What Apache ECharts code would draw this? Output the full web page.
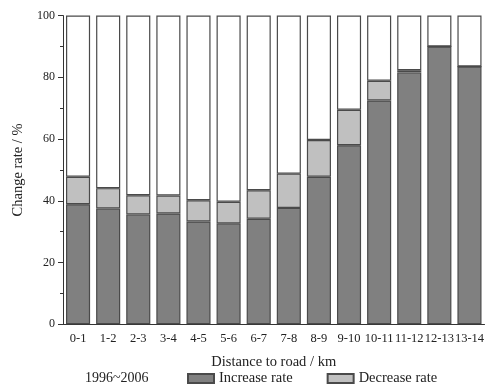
<!DOCTYPE html>
<html lang="en">

<head>
  <meta charset="UTF-8">
  <title>Change rate</title>
  <script src="https://cdn.jsdelivr.net/npm/echarts@6/dist/echarts.min.js"></script>
  <style>
    * {
      padding: 0;
      margin: 0;
    }

    #box {
      width: 487px;
      height: 390px;
    }
  </style>
</head>

<body>
  <div id="box"></div>
  <script>
    var categories = ['0-1', '1-2', '2-3', '3-4', '4-5', '5-6', '6-7', '7-8', '8-9', '9-10', '10-11', '11-12', '12-13', '13-14']
    var increaseRate = [38.9, 37.5, 35.6, 35.9, 33.3, 32.7, 34.2, 37.7, 47.8, 58.0, 72.5, 81.6, 90.0, 83.5]
    var decreaseRate = [8.9, 6.6, 6.2, 5.8, 6.9, 7.0, 9.2, 11.1, 11.9, 11.5, 6.4, 0.7, 0, 0]
    // rest of each bar up to 100%
    var unchanged = []
    for (let i = 0; i < categories.length; i++) {
      unchanged.push(+(100 - increaseRate[i] - decreaseRate[i]).toFixed(1))
    }

    var font = 'Liberation Serif'
    var mCharts = echarts.init(document.getElementById('box'))
    var barStyle = { borderColor: '#4a4a4a', borderWidth: 1.2 }
    var option = {
      animation: false,
      textStyle: { fontFamily: font, color: '#222' },
      grid: { left: 63, right: 1, top: 15.6, bottom: 65.7 },
      legend: {
        top: 371,
        left: 187,
        padding: 0,
        itemGap: 34,
        itemWidth: 26,
        itemHeight: 9,
        icon: 'rect',
        textStyle: { fontFamily: font, fontSize: 14.5, color: '#222' },
        data: ['Increase rate', 'Decrease rate']
      },
      graphic: [{
        type: 'text',
        left: 85,
        top: 371,
        style: { text: '1996~2006', font: '14px "Liberation Serif"', fill: '#222' }
      }],
      xAxis: [{
        type: 'category',
        data: categories,
        name: 'Distance to road / km',
        nameLocation: 'middle',
        nameGap: 30,
        nameTextStyle: { fontSize: 14.5, color: '#222' },
        axisLine: { lineStyle: { color: '#333' } },
        axisTick: { alignWithLabel: true, length: 5, lineStyle: { color: '#333' } },
        axisLabel: { fontSize: 12.5, color: '#222', margin: 8, interval: 0 }
      }, {
        type: 'category',
        data: categories,
        position: 'bottom',
        axisLine: { show: false },
        axisTick: { length: 3, lineStyle: { color: '#333' } },
        axisLabel: { show: false }
      }],
      yAxis: {
        type: 'value',
        min: 0,
        max: 100,
        interval: 20,
        name: 'Change rate / %',
        nameLocation: 'middle',
        nameGap: 34,
        nameTextStyle: { fontSize: 14.5, color: '#222' },
        splitLine: { show: false },
        axisLine: { show: true, lineStyle: { color: '#333' } },
        axisTick: { show: true, inside: false, length: 5, lineStyle: { color: '#333' } },
        minorTick: { show: true, splitNumber: 2, length: 3, lineStyle: { color: '#333' } },
        axisLabel: { fontSize: 12, color: '#222', margin: 8 }
      },
      series: [{
        name: 'Increase rate',
        type: 'bar',
        stack: 'all',
        barWidth: '80%',
        itemStyle: Object.assign({ color: '#808080' }, barStyle),
        data: increaseRate
      }, {
        name: 'Decrease rate',
        type: 'bar',
        stack: 'all',
        itemStyle: Object.assign({ color: '#c0c0c0' }, barStyle),
        data: decreaseRate
      }, {
        name: 'Unchanged',
        type: 'bar',
        stack: 'all',
        itemStyle: Object.assign({ color: '#ffffff' }, barStyle),
        data: unchanged
      }]
    }
    mCharts.setOption(option)
  </script>
</body>

</html>
